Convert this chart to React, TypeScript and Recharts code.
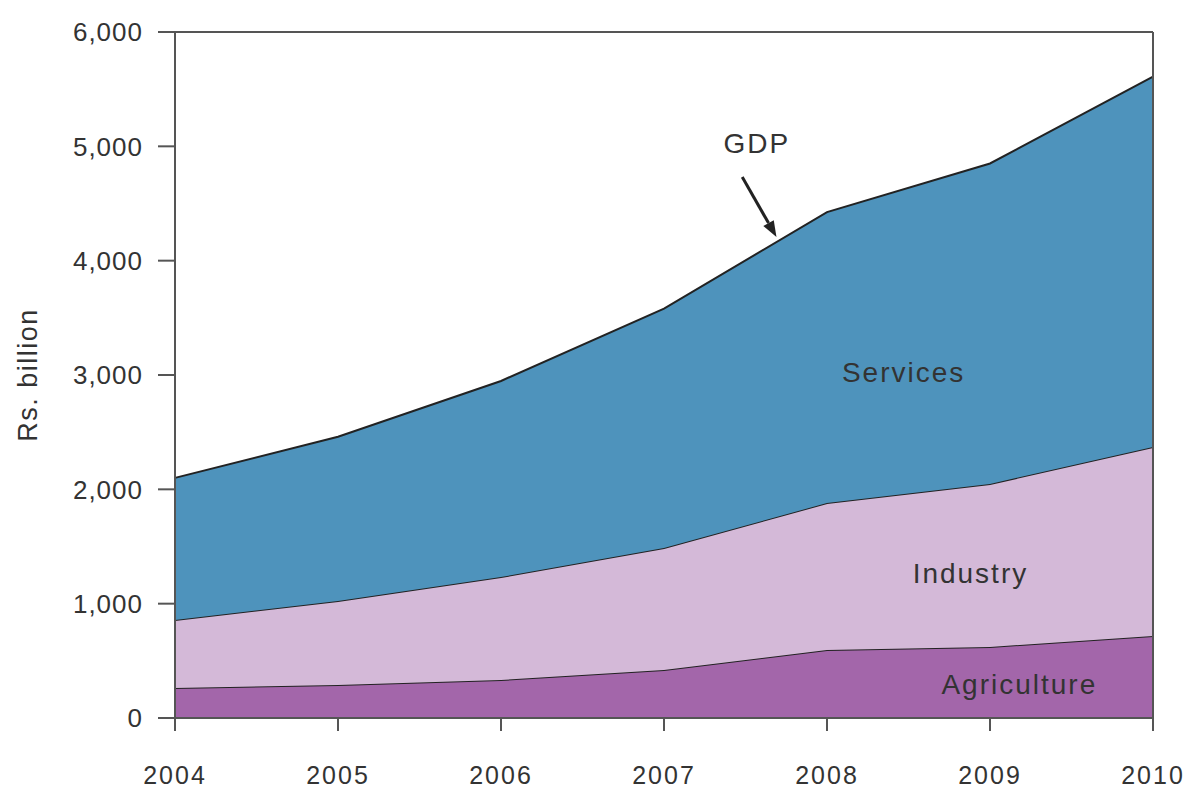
import React from "react";
import {
  AreaChart,
  Area,
  XAxis,
  YAxis,
  ReferenceLine,
  ReferenceDot,
} from "recharts";

const years = [2004, 2005, 2006, 2007, 2008, 2009, 2010];
const agriculture = [262, 289, 332, 420, 595, 621, 717];
const industry = [595, 734, 901, 1067, 1285, 1426, 1653];
const services = [1243, 1437, 1715, 2093, 2545, 2803, 3240];
const yTicks = [0, 1000, 2000, 3000, 4000, 5000, 6000];

const data = years.map((year, i) => ({
  year,
  Agriculture: agriculture[i],
  Industry: industry[i],
  Services: services[i],
}));

const textColor = "#333";
const axisColor = "#555";
const font = "'Liberation Sans', Arial, sans-serif";

const areaLabel = (text: string, size = 28) => ({
  value: text,
  position: "center" as const,
  fill: "#333",
  fontSize: size,
  fontFamily: font,
  letterSpacing: 2,
});

const Arrow = (props: any) => {
  const { x1, y1, x2, y2 } = props;
  const ang = Math.atan2(y2 - y1, x2 - x1);
  const len = 16;
  const w = 6;
  const bx = x2 - len * Math.cos(ang);
  const by = y2 - len * Math.sin(ang);
  const px = -Math.sin(ang) * w;
  const py = Math.cos(ang) * w;
  return (
    <g>
      <line x1={x1} y1={y1} x2={bx} y2={by} stroke="#222" strokeWidth={3} />
      <polygon
        points={`${x2},${y2} ${bx + px},${by + py} ${bx - px},${by - py}`}
        fill="#222"
      />
    </g>
  );
};

const App = () => {
  return (
    <div style={{ position: "absolute", left: 0, top: 0 }}>
      <AreaChart
        width={1186}
        height={790}
        data={data}
        margin={{ top: 32, right: 33, left: 0, bottom: 0 }}
      >
        <XAxis
          dataKey="year"
          type="number"
          domain={[2004, 2010]}
          ticks={years}
          height={72}
          stroke={axisColor}
          strokeWidth={2}
          tickSize={13}
          tickMargin={35}
          tick={{ fill: textColor, fontSize: 25, fontFamily: font, letterSpacing: 2 }}
        />
        <YAxis
          width={175}
          domain={[0, 6000]}
          ticks={yTicks}
          stroke={axisColor}
          strokeWidth={2}
          tickSize={17}
          tickMargin={15}
          tickFormatter={(v: number) => v.toLocaleString("en-US")}
          tick={{ fill: textColor, fontSize: 26, fontFamily: font, letterSpacing: 1 }}
          label={{
            value: "Rs. billion",
            angle: -90,
            position: "insideLeft",
            offset: 27,
            fill: textColor,
            fontSize: 27,
            fontFamily: font,
            letterSpacing: 1.5,
            style: { textAnchor: "middle" },
          }}
        />
        <Area
          type="linear"
          dataKey="Agriculture"
          stackId="1"
          fill="#A366AA"
          fillOpacity={1}
          stroke="#222"
          strokeWidth={2}
          isAnimationActive={false}
        />
        <Area
          type="linear"
          dataKey="Industry"
          stackId="1"
          fill="#D4B9D8"
          fillOpacity={1}
          stroke="#222"
          strokeWidth={2}
          isAnimationActive={false}
        />
        <Area
          type="linear"
          dataKey="Services"
          stackId="1"
          fill="#4E93BC"
          fillOpacity={1}
          stroke="#222"
          strokeWidth={2}
          isAnimationActive={false}
        />
        <ReferenceLine y={6000} stroke={axisColor} strokeWidth={2} />
        <ReferenceLine x={2010} stroke={axisColor} strokeWidth={2} />
        <ReferenceLine
          segment={[
            { x: 2007.48, y: 4732 },
            { x: 2007.69, y: 4207 },
          ]}
          shape={Arrow}
        />
        <ReferenceDot x={2007.57} y={5029} r={0} label={areaLabel("GDP")} />
        <ReferenceDot x={2008.47} y={3026} r={0} label={areaLabel("Services")} />
        <ReferenceDot x={2008.88} y={1268} r={0} label={areaLabel("Industry")} />
        <ReferenceDot x={2009.18} y={297} r={0} label={areaLabel("Agriculture")} />
      </AreaChart>
    </div>
  );
};

export default App;
